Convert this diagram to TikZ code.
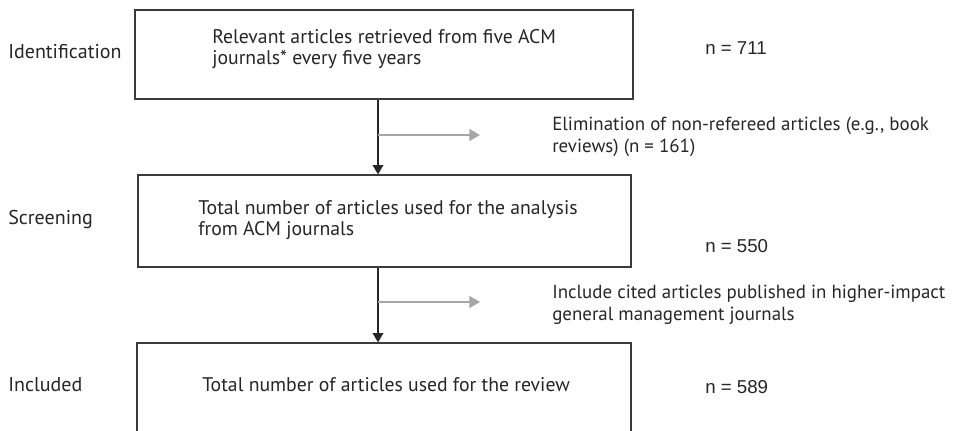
\documentclass[tikz,border=0pt]{standalone}
\usepackage{fontspec}
\setmainfont{PT Sans}
\newfontfamily\numfont{Liberation Sans}
\usetikzlibrary{arrows.meta}
\definecolor{ink}{HTML}{262626}
\definecolor{frame}{HTML}{3A3A3A}
\definecolor{aside}{HTML}{A6A6A6}
\begin{document}
\begin{tikzpicture}[x=0.75pt,y=-0.75pt,
  stage/.style={anchor=west, font=\fontsize{15}{16}\selectfont, text=ink, inner sep=0pt},
  body/.style={anchor=west, align=left, font=\fontsize{14.8}{16}\selectfont, text=ink, inner sep=0pt},
  note/.style={body, font=\fontsize{14.2}{16.2}\selectfont},
  count/.style={anchor=west, font=\numfont\fontsize{14}{16}\selectfont, text=ink, inner sep=0pt},
  panel/.style={draw=frame, line width=1pt, inner sep=0pt},
  flow/.style={draw=ink, line width=1pt, -{Triangle[length=7pt,width=8pt]}},
  side/.style={draw=aside, line width=1pt, -{Triangle[length=8pt,width=9pt]}}]
\clip (0,0) rectangle (957,430);
\fill[white] (0,0) rectangle (957,430);

% boxes of the flow
\node[panel, minimum width=373.5pt, minimum height=66.75pt] (b1) at (384,54.5) {};
\node[panel, minimum width=369.75pt, minimum height=69pt] (b2) at (384.5,221) {};
\node[panel, minimum width=370.5pt, minimum height=87.75pt] (b3) at (384,401.5) {};

% stage labels
\node[stage] (s1) at (8,52) {Identification};
\node[stage] (s2) at (8,219) {Screening};
\node[stage] (s3) at (8,385) {Included};

% box texts
\node[body] (t1) at (212,49) {Relevant articles retrieved from five ACM\\journals* every five years};
\node[body] (t2) at (198,220) {Total number of articles used for the analysis\\from ACM journals};
\node[body] (t3) at (202,385) {Total number of articles used for the review};

% counts
\node[count] (n1) at (705,48) {n = 711};
\node[count] (n2) at (705,246) {n = 550};
\node[count] (n3) at (705,387) {n = 589};

% side notes
\node[note] (e1) at (552,137) {Elimination of non-refereed articles (e.g., book\\reviews) (n = 161)};
\node[note] (e2) at (552,305) {Include cited articles published in higher-impact\\general management journals};

% spine and branches
\coordinate (spine) at (378,0);
\coordinate (j1) at (378,135);
\coordinate (k1) at (480,135);
\coordinate (j2) at (378,302);
\coordinate (k2) at (480,302);
\draw[flow] (b1.south -| spine) -- (b2.north -| spine);
\draw[flow] (b2.south -| spine) -- (b3.north -| spine);
\draw[side] (j1) -- (k1);
\draw[side] (j2) -- (k2);
\end{tikzpicture}
\end{document}
